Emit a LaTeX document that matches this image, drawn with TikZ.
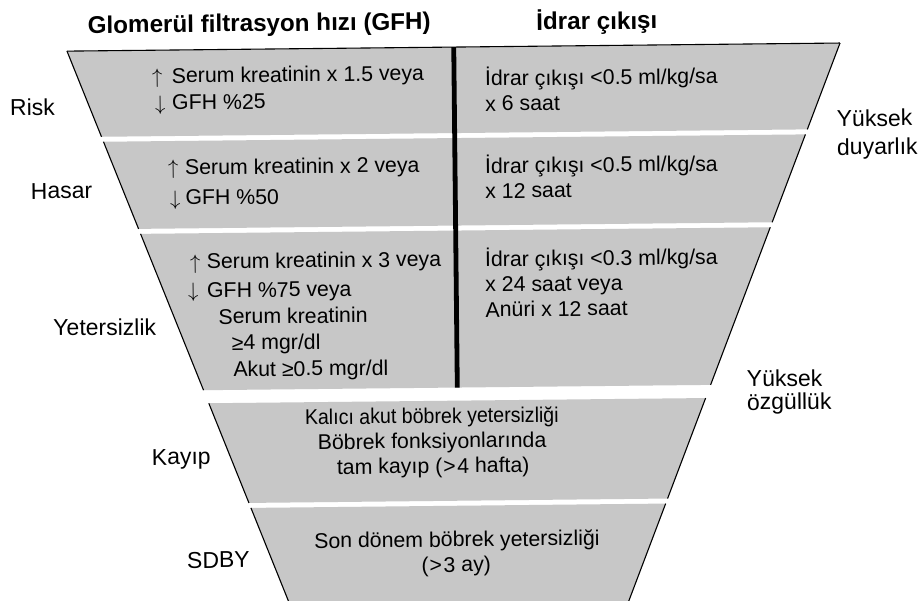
\documentclass[tikz,border=0pt]{standalone}
\usepackage{fontspec}
\setmainfont{Liberation Sans}
\newcommand{\ua}[1]{\makebox[#1][l]{$\uparrow$}}
\newcommand{\da}[1]{\makebox[#1][l]{$\downarrow$}}
\begin{document}
\begin{tikzpicture}[x=1pt,y=-1pt,
  bandfill/.style={fill=black!22},
  edge/.style={draw=black, line width=1.1pt},
  divider/.style={draw=black, line width=4.8pt},
  body/.style={font=\fontsize{21.3}{26}\selectfont, inner sep=0pt, anchor=base west},
  bodyc/.style={font=\fontsize{21.3}{26}\selectfont, inner sep=0pt, anchor=base},
  side/.style={font=\fontsize{23}{27}\selectfont, inner sep=0pt, anchor=base west},
  head/.style={font=\bfseries\fontsize{24.2}{28}\selectfont, inner sep=0pt, anchor=base west}]
\clip (0,0) rectangle (923,600);
\fill[white] (0,0) rectangle (923,600);
\begin{scope}[rotate around={0.6:(461,300)}, transform shape]
  % bands of the funnel
  \foreach \t/\b in {47/133, 138/225.5, 230.5/387.5, 400.6/500.7, 505.7/640}{
    \pgfmathsetmacro\lt{69.6+0.3906*(\t-47)}
    \pgfmathsetmacro\rt{842.7-0.3906*(\t-47)}
    \pgfmathsetmacro\lb{69.6+0.3906*(\b-47)}
    \pgfmathsetmacro\rb{842.7-0.3906*(\b-47)}
    \fill[bandfill] (\lt,\t) -- (\rt,\t) -- (\rb,\b) -- (\lb,\b) -- cycle;
    \draw[edge] (\lt,\t) -- (\lb,\b);
    \draw[edge] (\rt,\t) -- (\rb,\b);
  }
  \coordinate (tl) at (69.6,47);
  \coordinate (tr) at (842.7,47);
  \draw[edge] (tl) -- (tr);
  \coordinate (dtop) at (456.4,47);
  \coordinate (dbot) at (456.4,387.5);
  \draw[divider] (dtop) -- (dbot);

  % headers
  \node[head] (h1) at (90.5,29.4) {Glomerül filtrasyon hızı (GFH)};
  \node[head] (h2) at (539,30.8) {İdrar çıkışı};

  % band 1
  \node[body] (r1a) at (154.3,80.1) {\ua{19.7pt}Serum kreatinin x 1.5 veya};
  \node[body] (r1b) at (157,106.8) {\da{17pt}GFH \%25};
  \node[body] (u1a) at (487.2,86.2) {İdrar çıkışı <0.5 ml/kg/sa};
  \node[body] (u1b) at (487.2,111.3) {x 6 saat};

  % band 2
  \node[body] (r2a) at (169.3,171.9) {\ua{17pt}Serum kreatinin x 2 veya};
  \node[body] (r2b) at (171,202) {\da{15.3pt}GFH \%50};
  \node[body] (u2a) at (486.3,173.6) {İdrar çıkışı <0.5 ml/kg/sa};
  \node[body] (u2b) at (486.3,198.6) {x 12 saat};

  % band 3
  \node[body] (r3a) at (190.3,266.2) {\ua{16.7pt}Serum kreatinin x 3 veya};
  \node[body] (r3b) at (188,295.1) {\da{19pt}GFH \%75 veya};
  \node[body] (r3c) at (218.1,321.5) {Serum kreatinin};
  \node[body] (r3d) at (231.2,347.6) {≥4 mgr/dl};
  \node[body] (r3e) at (232.5,374.3) {Akut ≥0.5 mgr/dl};
  \node[body] (u3a) at (485.3,266.9) {İdrar çıkışı <0.3 ml/kg/sa};
  \node[body] (u3b) at (485.3,292) {x 24 saat veya};
  \node[body] (u3c) at (485.3,317.3) {Anüri x 12 saat};

  % band 4
  \node[bodyc, xscale=0.92] (k1) at (430.6,423) {Kalıcı akut böbrek yetersizliği};
  \node[bodyc] (k2) at (430.6,448) {Böbrek fonksiyonlarında};
  \node[bodyc] (k3) at (431.5,473) {tam kayıp (\kern1pt>\kern1.5pt4 hafta)};

  % band 5
  \node[bodyc] (s1) at (454.4,546.7) {Son dönem böbrek yetersizliği};
  \node[bodyc] (s2) at (453.5,571.9) {(\kern1pt>\kern1.5pt3 ay)};

  % side labels
  \node[side] (lrisk) at (11.9,111) {Risk};
  \node[side] (lhasar) at (31.8,194.5) {Hasar};
  \node[side] (lyet) at (52.9,331.7) {Yetersizlik};
  \node[side] (lkayip) at (150,461.8) {Kayıp};
  \node[side] (lsdby) at (184.2,565.4) {SDBY};
  \node[side] (ry1) at (838.5,130.6) {Yüksek};
  \node[side] (ry2) at (838.5,159) {duyarlık};
  \node[side] (rz1) at (745.8,389.7) {Yüksek};
  \node[side] (rz2) at (745.8,413) {özgüllük};
\end{scope}
\end{tikzpicture}
\end{document}
